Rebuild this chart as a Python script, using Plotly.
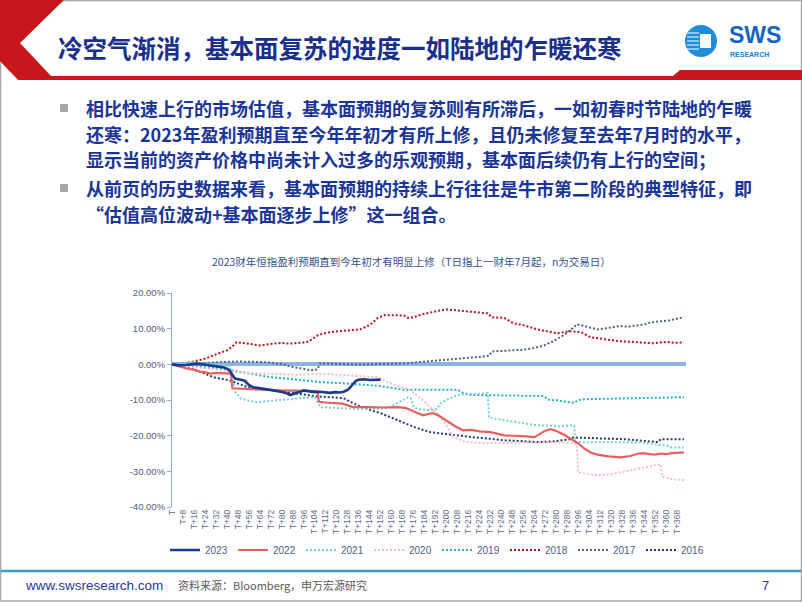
import plotly.graph_objects as go

# ---------------- data ----------------
SERIES_NAMES = ["2023", "2022", "2021", "2020", "2019", "2018", "2017", "2016"]

DAYS_2023 = [0, 5, 10, 15, 18, 22, 26, 30, 34, 38, 40, 42, 44, 46, 50, 53, 56, 59, 62, 66, 70, 74, 79, 83, 86,
             89, 91, 94, 96, 100, 104, 108, 112, 115, 119, 122, 125, 128, 130, 132, 134, 136, 140, 144, 148, 152]
VALS_2023 = [0, -0.3, -0.2, 0.1, 0.2, 0.0, -0.2, -0.3, -0.6, -0.9, -1.2, -1.7, -3.0, -4.0, -4.3, -4.6, -5.8, -6.4,
             -6.6, -6.8, -7.0, -7.3, -7.7, -8.0, -8.6, -8.3, -8.1, -7.6, -7.3, -7.5, -7.8, -7.7, -7.9, -8.0, -7.8,
             -7.9, -7.7, -7.2, -6.4, -5.5, -4.6, -4.3, -4.2, -4.4, -4.3, -4.3]

DAYS_2022 = [0, 4, 8, 12, 16, 20, 24, 28, 32, 36, 40, 43, 44, 48, 55, 62, 70, 78, 86, 94, 100, 104, 106, 107, 112,
             118, 124, 128, 132, 140, 148, 156, 164, 170, 178, 183, 186, 190, 194, 200, 206, 212, 218, 224, 232,
             242, 250, 258, 264, 268, 272, 276, 280, 286, 290, 296, 300, 305, 310, 318, 327, 334, 340, 343, 348,
             352, 356, 360, 364, 368, 373]
VALS_2022 = [0, -0.5, -1.0, -1.3, -1.5, -2.0, -2.2, -2.6, -2.4, -2.5, -2.5, -2.6, -6.7, -6.8, -7.0, -7.1, -7.2,
             -7.3, -7.3, -7.4, -7.5, -7.5, -7.6, -10.5, -10.7, -10.8, -11.0, -11.5, -12.0, -12.0, -12.1, -12.1,
             -12.0, -12.2, -13.5, -14.3, -14.0, -13.7, -14.3, -15.8, -17.3, -18.5, -18.4, -18.8, -19.0, -19.9,
             -20.0, -20.2, -20.4, -19.5, -18.6, -18.2, -18.7, -19.8, -20.7, -22.2, -23.5, -24.7, -25.3, -25.8,
             -26.1, -25.7, -25.0, -24.9, -25.2, -25.3, -25.0, -25.2, -24.9, -24.8, -24.7]

DAYS_2021 = [0, 8, 14, 20, 28, 36, 42, 44, 46, 50, 56, 62, 70, 78, 86, 96, 104, 106, 108, 112, 120, 128, 136, 144,
             152, 160, 166, 170, 172, 174, 176, 180, 188, 193, 196, 200, 204, 208, 216, 224, 230, 231, 240, 250,
             258, 266, 274, 282, 290, 293, 294, 300, 310, 320, 330, 340, 350, 356, 360, 364, 368, 373]
VALS_2021 = [0, 0.3, 0.5, 0.3, 0.2, 0.0, -0.5, -3.0, -7.7, -9.6, -10.2, -10.6, -10.3, -10.1, -9.8, -9.4, -9.2,
             -10.6, -12.0, -12.1, -12.2, -12.4, -12.5, -12.3, -12.5, -11.8, -10.6, -9.8, -9.2, -9.5, -12.0, -12.6,
             -12.9, -12.5, -10.8, -10.0, -9.2, -8.6, -8.4, -8.2, -8.1, -15.0, -15.5, -16.0, -16.6, -17.1, -17.2,
             -17.4, -17.1, -17.2, -21.8, -21.8, -21.9, -21.7, -21.8, -21.9, -22.3, -22.7, -22.7, -23.3, -23.3, -23.3]

DAYS_2020 = [0, 10, 20, 30, 40, 50, 60, 70, 80, 90, 100, 110, 120, 130, 140, 150, 157, 165, 174, 184, 193, 200,
             205, 212, 220, 230, 240, 250, 260, 270, 278, 290, 295, 296, 300, 310, 320, 330, 340, 351, 356, 357,
             362, 368, 373]
VALS_2020 = [0, -0.5, -1.0, -1.5, -2.0, -2.3, -2.5, -2.7, -2.8, -2.9, -2.8, -2.6, -2.9, -3.2, -3.5, -3.6, -5.0,
             -6.0, -7.3, -10.5, -13.8, -17.0, -20.4, -21.5, -22.0, -22.1, -22.0, -22.1, -21.9, -21.8, -21.8, -22.0,
             -22.3, -30.4, -30.6, -31.1, -30.8, -30.0, -29.2, -28.3, -28.0, -31.5, -32.0, -32.3, -32.5]

DAYS_2019 = [0, 10, 20, 28, 40, 50, 60, 72, 84, 96, 108, 120, 135, 150, 157, 165, 169, 180, 190, 200, 208, 212,
             218, 230, 240, 250, 260, 271, 274, 280, 288, 293, 296, 300, 310, 320, 330, 339, 350, 360, 373]
VALS_2019 = [0, -0.3, -0.6, -0.8, -1.5, -2.2, -2.9, -3.6, -4.0, -4.5, -5.0, -5.2, -5.5, -6.0, -6.4, -6.9, -7.1,
             -7.1, -7.2, -7.1, -7.1, -8.0, -8.6, -8.6, -8.7, -8.8, -8.8, -8.9, -9.9, -10.1, -10.5, -10.8, -10.0,
             -9.8, -9.7, -9.6, -9.5, -9.5, -9.4, -9.3, -9.2]

DAYS_2018 = [0, 8, 16, 25, 32, 40, 44, 47, 52, 58, 64, 72, 79, 86, 92, 98, 102, 106, 110, 115, 122, 130, 137, 144,
             150, 155, 160, 169, 172, 176, 182, 188, 194, 200, 210, 220, 230, 233, 242, 249, 256, 266, 274, 281,
             290, 298, 305, 312, 318, 325, 335, 345, 351, 360, 366, 373]
VALS_2018 = [0, 0.2, 0.8, 1.7, 2.8, 3.9, 5.0, 6.2, 6.0, 5.6, 5.3, 5.7, 6.0, 5.8, 6.1, 6.2, 7.0, 8.1, 8.6, 9.0,
             9.3, 9.6, 9.8, 11.0, 13.0, 13.8, 13.8, 13.7, 13.0, 13.2, 14.0, 14.6, 15.0, 15.4, 15.0, 14.6, 14.3,
             13.2, 13.0, 11.5, 11.0, 9.8, 9.3, 8.7, 9.3, 9.0, 7.6, 7.2, 6.9, 6.5, 6.3, 6.1, 5.9, 6.3, 6.0, 6.2]

DAYS_2017 = [0, 10, 20, 30, 40, 47, 60, 72, 80, 86, 95, 101, 106, 108, 115, 125, 135, 145, 155, 165, 172, 179,
             186, 195, 205, 215, 227, 231, 233, 240, 248, 256, 264, 271, 278, 285, 290, 295, 300, 305, 310, 318,
             325, 333, 340, 344, 349, 356, 362, 368, 373]
VALS_2017 = [0, 0.2, 0.3, 0.5, 0.7, 0.8, 0.7, 0.5, 0.0, -0.6, -1.2, -1.7, -1.4, 0.3, 0.2, 0.0, -0.1, 0.0, 0.1,
             0.2, 0.3, 0.6, 0.8, 1.1, 1.4, 1.8, 2.2, 2.4, 3.6, 3.7, 3.9, 4.1, 4.6, 5.3, 6.5, 8.1, 9.5, 11.2, 10.8,
             10.2, 9.8, 10.2, 10.7, 10.6, 10.9, 11.2, 11.8, 12.0, 12.3, 12.8, 13.2]

DAYS_2016 = [0, 10, 20, 30, 42, 55, 64, 74, 84, 91, 100, 106, 115, 125, 130, 135, 139, 145, 152, 160, 169, 178,
             188, 200, 210, 218, 230, 242, 254, 266, 278, 290, 292, 300, 315, 330, 345, 354, 356, 364, 373]
VALS_2016 = [0, -0.8, -2.0, -3.6, -4.5, -6.4, -6.8, -7.3, -7.7, -8.1, -8.6, -9.0, -9.2, -9.5, -10.5, -11.5, -12.0,
             -12.9, -13.7, -15.0, -16.5, -17.8, -19.0, -19.6, -20.0, -20.4, -20.8, -21.3, -21.5, -21.8, -21.6,
             -21.0, -20.5, -20.6, -20.7, -21.0, -21.5, -21.8, -21.0, -21.0, -21.0]

SERIES_DAYS = [DAYS_2023, DAYS_2022, DAYS_2021, DAYS_2020, DAYS_2019, DAYS_2018, DAYS_2017, DAYS_2016]
SERIES_VALS = [VALS_2023, VALS_2022, VALS_2021, VALS_2020, VALS_2019, VALS_2018, VALS_2017, VALS_2016]

TICK_DAYS = list(range(0, 369, 8))
TICK_LABELS = ["T" if d == 0 else f"T+{d}" for d in TICK_DAYS]
Y_TICKS = [20, 10, 0, -10, -20, -30, -40]
Y_LABELS = [f"{v:.2f}%" for v in Y_TICKS]

TITLE = "冷空气渐消，基本面复苏的进度一如陆地的乍暖还寒"
BULLET_LINES = [
    "相比快速上行的市场估值，基本面预期的复苏则有所滞后，一如初春时节陆地的乍暖",
    "还寒：2023年盈利预期直至今年年初才有所上修，且仍未修复至去年7月时的水平，",
    "显示当前的资产价格中尚未计入过多的乐观预期，基本面后续仍有上行的空间；",
    "从前页的历史数据来看，基本面预期的持续上行往往是牛市第二阶段的典型特征，即",
    "“估值高位波动+基本面逐步上修”这一组合。",
]
CHART_TITLE = "2023财年恒指盈利预期直到今年初才有明显上修（T日指上一财年7月起，n为交易日）"
FOOT_URL = "www.swsresearch.com"
FOOT_SRC = "资料来源：Bloomberg，申万宏源研究"
PAGE_NO = "7"

# ---------------- styles ----------------
DOT = "2px,2px"
STYLES = {
    "2023": dict(color="#1B3A8C", width=2.6, dash="solid"),
    "2022": dict(color="#E8605E", width=2.2, dash="solid"),
    "2021": dict(color="#72D0E4", width=2, dash=DOT),
    "2020": dict(color="#F6BCC2", width=2, dash=DOT),
    "2019": dict(color="#22AFC6", width=2, dash=DOT),
    "2018": dict(color="#B8141E", width=2, dash=DOT),
    "2017": dict(color="#4C6486", width=2, dash=DOT),
    "2016": dict(color="#24397A", width=2, dash=DOT),
}

W, H = 802, 602
ML, MR, MT, MB = 172, 116, 293, 95
PW = W - ML - MR
PH = H - MT - MB


def fx(px):
    return (px - ML) / PW


def fy(py):
    return (H - MB - py) / PH


def path(points):
    s = "M" + " L".join(f"{fx(x):.5f},{fy(y):.5f}" for x, y in points) + " Z"
    return s


fig = go.Figure()

order = list(range(len(SERIES_NAMES)))[::-1]
for i in order:
    name = SERIES_NAMES[i]
    fig.add_trace(go.Scatter(
        x=SERIES_DAYS[i], y=SERIES_VALS[i], mode="lines", name=name,
        line=STYLES[name], legendrank=i + 1, hoverinfo="skip",
    ))

TXT_BLUE = "#1A3596"
shapes = []
# slide frame
shapes.append(dict(type="rect", xref="paper", yref="paper", x0=fx(0.5), x1=fx(801.5), y0=fy(0.5), y1=fy(601),
                   line=dict(color="#A6A6A6", width=1.5), fillcolor="rgba(0,0,0,0)", layer="below"))
# red header chevron + band
shapes.append(dict(type="path", xref="paper", yref="paper",
                   path=path([(0, 0), (64, 0), (20, 43), (51, 76), (802, 76), (802, 80), (18, 80), (0, 61)]),
                   fillcolor="#C8161D", line=dict(width=0)))
shapes.append(dict(type="path", xref="paper", yref="paper",
                   path=path([(668, 80), (680, 70), (802, 70), (802, 80)]),
                   fillcolor="#C8161D", line=dict(width=0)))
# footer line
shapes.append(dict(type="line", xref="paper", yref="paper", x0=fx(1), x1=fx(801), y0=fy(571), y1=fy(571),
                   line=dict(color="#3A9CC9", width=2.5)))
# logo
shapes.append(dict(type="circle", xref="paper", yref="paper", x0=fx(685), x1=fx(717), y0=fy(25), y1=fy(57),
                   fillcolor="#1E8CDB", line=dict(width=0)))
shapes.append(dict(type="rect", xref="paper", yref="paper", x0=fx(700), x1=fx(711), y0=fy(34), y1=fy(48),
                   fillcolor="#FFFFFF", line=dict(width=0)))
for sy in [33, 37, 41, 45, 49]:
    shapes.append(dict(type="line", xref="paper", yref="paper", x0=fx(687), x1=fx(699), y0=fy(sy), y1=fy(sy),
                       line=dict(color="#BFE3FA", width=1.4)))
# bullet squares
for by in [108, 188]:
    shapes.append(dict(type="rect", xref="paper", yref="paper", x0=fx(60), x1=fx(68), y0=fy(by - 4), y1=fy(by + 4),
                       fillcolor="#A6A6A6", line=dict(width=0)))

CJK = "Noto Sans CJK SC"
ann = []
ann.append(dict(text=f"<b>{TITLE}</b>", x=fx(56), y=fy(47), xanchor="left", yanchor="middle",
                font=dict(family=CJK, size=24.5, color="#1A2F8C")))
ann.append(dict(text="<b>SWS</b>", x=fx(727), y=fy(35), xanchor="left", yanchor="middle",
                font=dict(family="Liberation Sans, Arial", size=23, color="#1565C0")))
ann.append(dict(text="<b>RESEARCH</b>", x=fx(728), y=fy(54), xanchor="left", yanchor="middle",
                font=dict(family="Liberation Sans, Arial", size=7, color="#1C7ED6")))
line_y = [108, 134, 159, 188, 214]
line_x = [84, 84, 84, 84, 84]
for t, yy, xx in zip(BULLET_LINES, line_y, line_x):
    ann.append(dict(text=f"<b>{t}</b>", x=fx(xx), y=fy(yy), xanchor="left", yanchor="middle",
                    font=dict(family=CJK, size=18, color=TXT_BLUE)))
ann.append(dict(text=CHART_TITLE, x=fx(411), y=fy(261), xanchor="center", yanchor="middle",
                font=dict(family=CJK, size=10.5, color="#34508C")))
ann.append(dict(text=FOOT_URL, x=fx(23), y=fy(585), xanchor="left", yanchor="middle",
                font=dict(family="Liberation Sans, Arial", size=13.5, color="#1F3A93")))
ann.append(dict(text=FOOT_SRC, x=fx(176), y=fy(585), xanchor="left", yanchor="middle",
                font=dict(family=CJK, size=11, color="#595959")))
ann.append(dict(text=PAGE_NO, x=fx(765), y=fy(585), xanchor="center", yanchor="middle",
                font=dict(family="Liberation Sans, Arial", size=13, color="#1F3A93")))
for a in ann:
    a.update(xref="paper", yref="paper", showarrow=False)

AX_COL = "#8EA9DB"
LBL_COL = "#4A5E80"
fig.update_layout(
    width=W, height=H, margin=dict(l=ML, r=MR, t=MT, b=MB, autoexpand=False),
    paper_bgcolor="white", plot_bgcolor="white",
    shapes=shapes, annotations=ann,
    showlegend=True,
    legend=dict(orientation="h", x=fx(165), y=fy(550), xanchor="left", yanchor="middle",
                font=dict(family="Liberation Sans, Arial", size=10, color=LBL_COL),
                entrywidth=23, entrywidthmode="pixels", traceorder="normal",
                bgcolor="rgba(0,0,0,0)", borderwidth=0),
    xaxis=dict(range=[0, 374.5], tickmode="array", tickvals=TICK_DAYS, ticktext=TICK_LABELS,
               tickangle=-90, showgrid=False, zeroline=False, showline=False, ticks="",
               tickfont=dict(family="Liberation Sans, Arial", size=8.5, color="#5A6B8A"), fixedrange=True),
    yaxis=dict(range=[-40, 20], tickmode="array", tickvals=Y_TICKS, ticktext=Y_LABELS,
               showgrid=False, zeroline=True, zerolinecolor="#8DB3E2", zerolinewidth=3.5,
               showline=True, linecolor=AX_COL, linewidth=1, ticks="outside", ticklen=4, tickcolor=AX_COL,
               tickfont=dict(family="Liberation Sans, Arial", size=9.5, color=LBL_COL), fixedrange=True),
)

fig.write_html("out.html")
